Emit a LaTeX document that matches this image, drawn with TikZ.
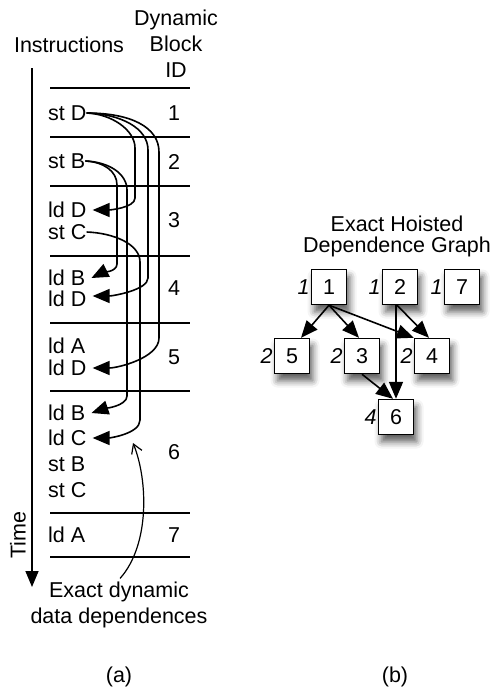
\documentclass[tikz,border=0pt]{standalone}
\usepackage{fontspec}
\setmainfont{Liberation Sans}
\usetikzlibrary{arrows.meta,shadows.blur}

\begin{document}
\begin{tikzpicture}[x=1pt,y=1pt,
  every node/.style={font=\fontsize{21.5}{26}\selectfont},
  row/.style={anchor=west,inner sep=0pt},
  rule/.style={line width=1.6pt},
  dep/.style={line width=1.6pt,-{Triangle[length=17pt,width=14pt]}},
  note/.style={line width=1.2pt,-{Straight Barb[length=9pt,width=11pt]}},
  timeaxis/.style={line width=1.6pt,-{Triangle[length=16pt,width=13pt]}},
  blk/.style={draw,line width=1.4pt,fill=white,minimum size=35pt,inner sep=0pt,
    blur shadow={shadow xshift=3pt,shadow yshift=-7pt,shadow blur radius=7pt,shadow opacity=65}},
  wt/.style={label={[inner sep=1pt,font=\fontsize{21.5}{26}\selectfont\itshape]left:#1}},
  gedge/.style={line width=1.6pt,-{Triangle[length=17pt,width=14pt]}}
]
\useasboundingbox (0,0) rectangle (493,-689);

% ---------- (a) instruction trace ----------
\node (hInstr) at (69,-45) {Instructions};
\node[align=center] (hBlock) at (176,-44) {Dynamic\\Block\\ID};

% time axis
\coordinate (t0) at (32,-68);
\coordinate (t1) at (32,-587);
\draw[timeaxis] (t0) -- (t1);
\node[rotate=90] (tlabel) at (18,-535) {Time};

% block separators
\foreach \y in {88,137,186,256,323,391,513,557}
  \draw[rule] (50,-\y) -- (190,-\y);

% instructions
\node[row] (sD)  at (48,-113) {st D};
\node[row] (sB)  at (48,-161) {st B};
\node[row] (lD3) at (48,-210) {ld D};
\node[row] (sC)  at (48,-232) {st C};
\node[row] (lB4) at (48,-278) {ld B};
\node[row] (lD4) at (48,-299) {ld D};
\node[row] (lA5) at (48,-346) {ld A};
\node[row] (lD5) at (48,-368) {ld D};
\node[row] (lB6) at (48,-413) {ld B};
\node[row] (lC6) at (48,-438) {ld C};
\node[row] (sB6) at (48,-464) {st B};
\node[row] (sC6) at (48,-490) {st C};
\node[row] (lA7) at (48,-535) {ld A};

% block ids
\node (id1) at (174,-113) {1};
\node (id2) at (174,-162) {2};
\node (id3) at (174,-220) {3};
\node (id4) at (174,-288) {4};
\node (id5) at (174,-357) {5};
\node (id6) at (174,-452) {6};
\node (id7) at (174,-535) {7};

% store -> load dependences
\draw[dep] (sD.east) .. controls +(25,-1) and +(0,18) .. (135,-148)
  -- (135,-198) .. controls +(0,-10) and +(16,0) .. ([xshift=6pt]lD3.east);
\draw[dep] (sD.east) .. controls +(34,-1) and +(0,22) .. (148,-150)
  -- (148,-278) .. controls +(0,-12) and +(20,0) .. ([shift={(6pt,3pt)}]lD4.east);
\draw[dep] (sD.east) .. controls +(44,0) and +(0,25) .. (159,-152)
  -- (159,-338) .. controls +(0,-20) and +(25,0) .. ([xshift=6pt]lD5.east);
\draw[dep] (sB.east) .. controls +(18,-1) and +(0,14) .. (117,-185)
  -- (117,-264) .. controls +(0,-8) and +(10,5) .. ([xshift=6pt]lB4.east);
\draw[dep] (sB.east) .. controls +(24,-1) and +(0,16) .. (127,-190)
  -- (127,-396) .. controls +(0,-10) and +(12,4) .. ([xshift=6pt]lB6.east);
\draw[dep] (sC.east) .. controls +(27,-1) and +(0,18) .. (140,-262)
  -- (140,-420) .. controls +(0,-14) and +(16,0) .. ([xshift=6pt]lC6.east);

% annotation
\node[align=center] (ann) at (119,-605) {Exact dynamic\\data dependences};
\coordinate (annTip) at (133,-443);
\draw[note] ([xshift=1pt]ann.north) .. controls (150,-545) and (148,-480) .. (annTip);

\node (capA) at (119,-677) {(a)};

% ---------- (b) hoisted dependence graph ----------
\node[align=center,font=\fontsize{21.5}{21}\selectfont] (gtitle) at (397,-236) {Exact Hoisted\\Dependence Graph};

\node[blk,wt=1] (b1) at (329,-287) {1};
\node[blk,wt=1] (b2) at (400,-287) {2};
\node[blk,wt=1] (b7) at (462,-287) {7};
\node[blk,wt=2] (b5) at (292,-356) {5};
\node[blk,wt=2] (b3) at (362,-356) {3};
\node[blk,wt=2] (b4) at (432,-356) {4};
\node[blk,wt=4] (b6) at (396,-417) {6};

\draw[gedge] (b1.south) -- ([xshift=9pt]b5.north);
\draw[gedge] (b1.south) -- ([xshift=-3pt]b3.north);
\draw[gedge] (b1.south) -- (b4.north west);
\draw[gedge] ([xshift=-3pt]b2.south) -- ([xshift=-3pt]b4.north);
\draw[gedge] ([xshift=-4pt]b2.south) -- (b6.north);
\draw[gedge] (b3.south) -- ([xshift=-3pt]b6.north);

\node (capB) at (395,-677) {(b)};
\end{tikzpicture}
\end{document}
